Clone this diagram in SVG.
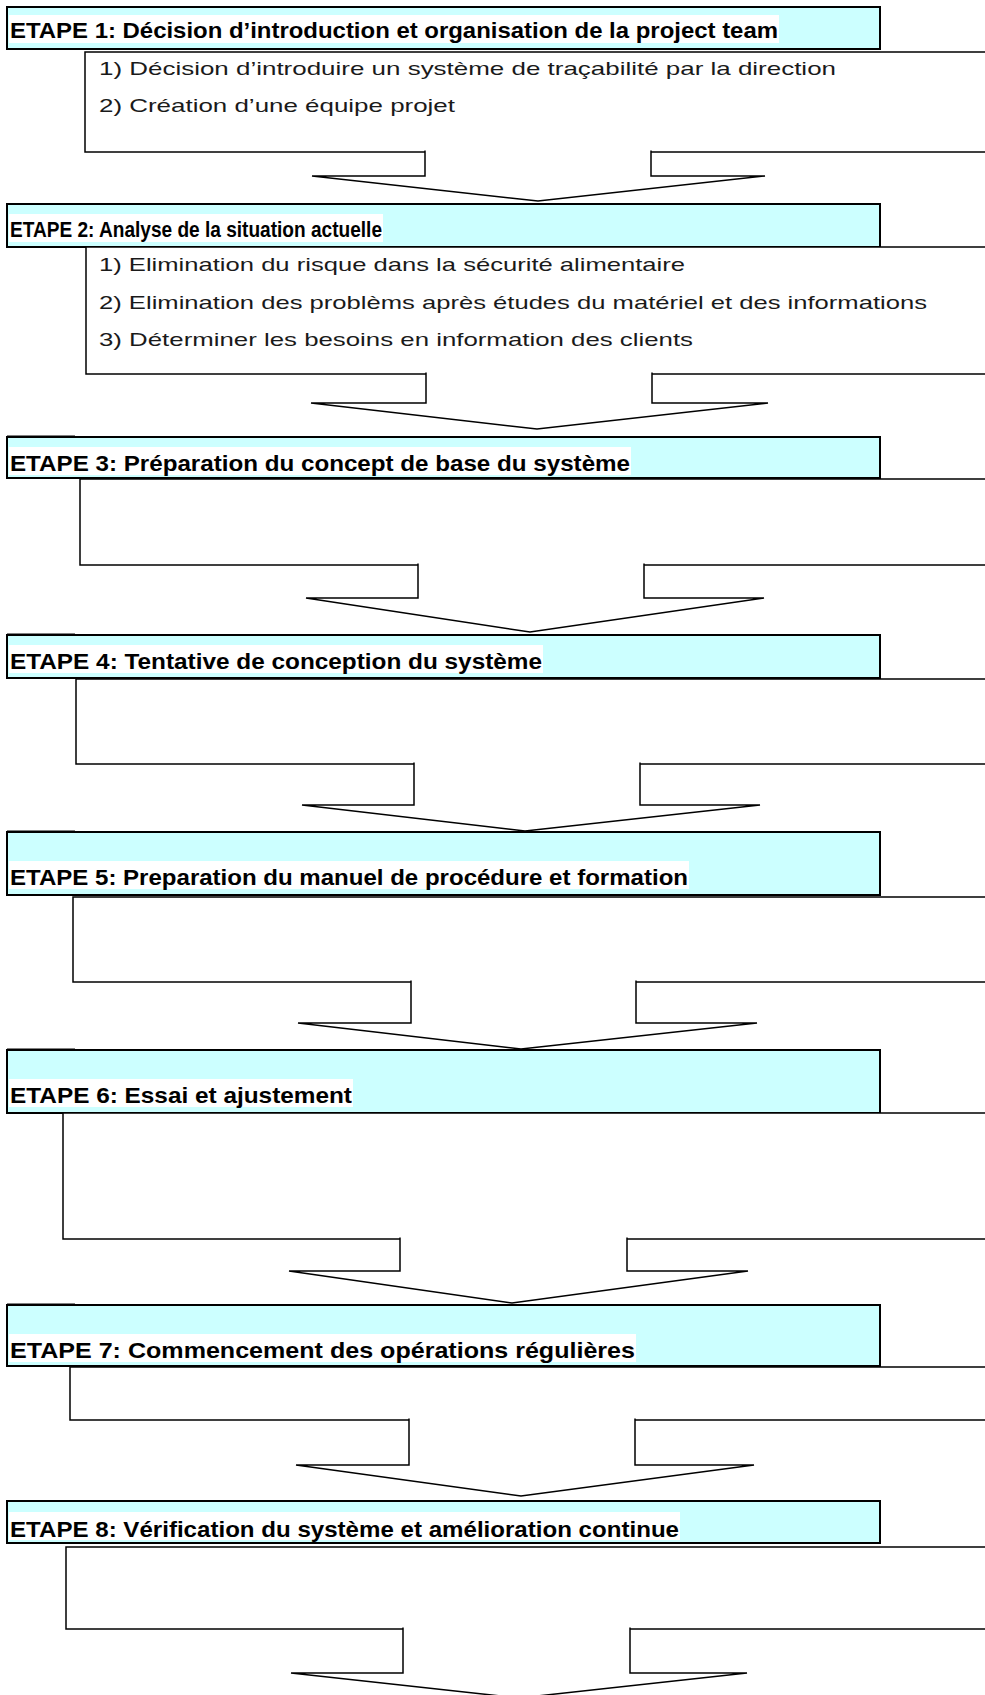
<svg xmlns="http://www.w3.org/2000/svg" width="985" height="1695" viewBox="0 0 985 1695">
<style>
.hdr{fill:#CCFFFF;stroke:#000;stroke-width:2}
.hl{fill:#FFFFFF}
.ht{font-family:"Liberation Sans",Arial,sans-serif;font-weight:bold;font-size:22px;fill:#000}
.box{fill:#FFFFFF;stroke:#000;stroke-width:1.5}
.bt{font-family:"Liberation Sans",Arial,sans-serif;font-size:19px;fill:#1a1a1a}
.arr{fill:#FFFFFF;stroke:#000;stroke-width:1.5;stroke-linejoin:miter}
.tick{stroke:#808080;stroke-width:2}
</style>
<rect width="985" height="1695" fill="#FFFFFF"/>

<g id="step1">
<rect class="hdr" x="7" y="7" width="873" height="42"/>
<rect class="hl" x="9" y="15" width="770" height="28"/>
<text class="ht" x="10" y="38" textLength="768" lengthAdjust="spacingAndGlyphs">ETAPE 1: Décision d’introduction et organisation de la project team</text>
<rect class="box" x="85" y="52" width="910" height="100"/>
<text class="bt" x="99" y="75" textLength="737" lengthAdjust="spacingAndGlyphs">1) Décision d’introduire un système de traçabilité par la direction</text>
<text class="bt" x="99" y="112" textLength="356" lengthAdjust="spacingAndGlyphs">2) Création d’une équipe projet</text>
</g>

<g id="step2">
<rect class="hdr" x="7" y="204" width="873" height="43"/>
<rect class="hl" x="9" y="214" width="374" height="28"/>
<text class="ht" x="10" y="237" textLength="372" lengthAdjust="spacingAndGlyphs">ETAPE 2: Analyse de la situation actuelle</text>
<rect class="box" x="86" y="247" width="910" height="127"/>
<text class="bt" x="99" y="271" textLength="586" lengthAdjust="spacingAndGlyphs">1) Elimination du risque dans la sécurité alimentaire</text>
<text class="bt" x="99" y="309" textLength="828" lengthAdjust="spacingAndGlyphs">2) Elimination des problèms après études du matériel et des informations</text>
<text class="bt" x="99" y="346" textLength="594" lengthAdjust="spacingAndGlyphs">3) Déterminer les besoins en information des clients</text>
</g>

<g id="step3">
<line class="tick" x1="7" y1="436" x2="75" y2="436"/>
<rect class="hdr" x="7" y="437" width="873" height="41"/>
<rect class="hl" x="9" y="447" width="622" height="28"/>
<text class="ht" x="10" y="471" textLength="620" lengthAdjust="spacingAndGlyphs">ETAPE 3: Préparation du concept de base du système</text>
<rect class="box" x="80" y="479" width="915" height="86"/>
</g>

<g id="step4">
<line class="tick" x1="7" y1="634" x2="75" y2="634"/>
<rect class="hdr" x="7" y="635" width="873" height="43"/>
<rect class="hl" x="9" y="645" width="534" height="28"/>
<text class="ht" x="10" y="669" textLength="532" lengthAdjust="spacingAndGlyphs">ETAPE 4: Tentative de conception du système</text>
<rect class="box" x="76" y="679" width="919" height="85"/>
</g>

<g id="step5">
<line class="tick" x1="7" y1="831" x2="75" y2="831"/>
<rect class="hdr" x="7" y="832" width="873" height="63"/>
<rect class="hl" x="9" y="861" width="680" height="28"/>
<text class="ht" x="10" y="885" textLength="678" lengthAdjust="spacingAndGlyphs">ETAPE 5: Preparation du manuel de procédure et formation</text>
<rect class="box" x="73" y="897" width="922" height="85"/>
</g>

<g id="step6">
<line class="tick" x1="7" y1="1049" x2="75" y2="1049"/>
<rect class="hdr" x="7" y="1050" width="873" height="63"/>
<rect class="hl" x="9" y="1079" width="344" height="28"/>
<text class="ht" x="10" y="1103" textLength="342" lengthAdjust="spacingAndGlyphs">ETAPE 6: Essai et ajustement</text>
<rect class="box" x="63" y="1113" width="932" height="126"/>
</g>

<g id="step7">
<line class="tick" x1="7" y1="1304" x2="75" y2="1304"/>
<rect class="hdr" x="7" y="1305" width="873" height="61"/>
<rect class="hl" x="9" y="1334" width="627" height="28"/>
<text class="ht" x="10" y="1358" textLength="625" lengthAdjust="spacingAndGlyphs">ETAPE 7: Commencement des opérations régulières</text>
<rect class="box" x="70" y="1367" width="925" height="53"/>
</g>

<g id="step8">
<rect class="hdr" x="7" y="1501" width="873" height="42"/>
<rect class="hl" x="9" y="1512" width="671" height="28"/>
<text class="ht" x="10" y="1537" textLength="669" lengthAdjust="spacingAndGlyphs">ETAPE 8: Vérification du système et amélioration continue</text>
<rect class="box" x="66" y="1547" width="929" height="82"/>
</g>

<g id="connectors">
<path class="arr" d="M425,150.5 V176 H312 L538,201 L765,176 H651 V150.5"/>
<path class="arr" d="M426,372.5 V403 H311 L537,429 L768,403 H652 V372.5"/>
<path class="arr" d="M418,563.5 V598 H306 L530,632 L764,598 H644 V563.5"/>
<path class="arr" d="M414,762.5 V805 H302 L525,831 L760,805 H640 V762.5"/>
<path class="arr" d="M411,980.5 V1023 H298 L521,1049 L757,1023 H636 V980.5"/>
<path class="arr" d="M400,1237.5 V1271 H289 L512,1303 L748,1271 H627 V1237.5"/>
<path class="arr" d="M409,1418.5 V1465 H296 L521,1496 L754,1465 H635 V1418.5"/>
<path class="arr" d="M403,1627.5 V1673 H291 L519,1698 L747,1673 H630 V1627.5"/>
</g>
</svg>
